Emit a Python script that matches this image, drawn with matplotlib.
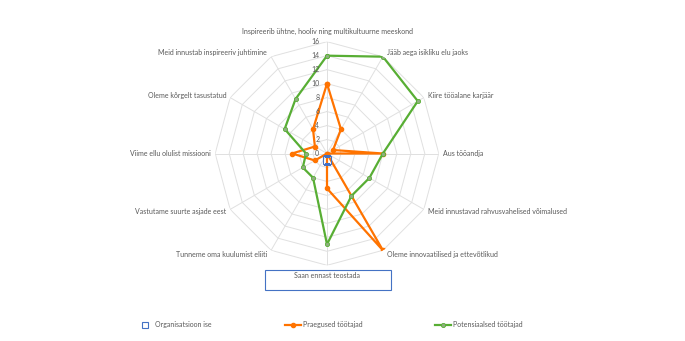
import numpy as np
import matplotlib
matplotlib.use("Agg")
import matplotlib.pyplot as plt
from matplotlib.lines import Line2D
from matplotlib.patches import Rectangle

plt.rcParams['font.family'] = ['Lato', 'DejaVu Sans']

# categories, clockwise from the top
categories = [
    "Inspireerib ühtne, hooliv ning multikultuurne meeskond",
    "Jääb aega isikliku elu jaoks",
    "Kiire tööalane karjäär",
    "Aus tööandja",
    "Meid innustavad rahvusvahelised võimalused",
    "Oleme innovaatilised ja ettevõtlikud",
    "Saan ennast teostada",
    "Tunneme oma kuulumist eliiti",
    "Vastutame suurte asjade eest",
    "Viime ellu olulist missiooni",
    "Oleme kõrgelt tasustatud",
    "Meid innustab inspireeriv juhtimine",
]
organisatsioon = [np.nan, np.nan, np.nan, np.nan, np.nan, np.nan, 1,
                  np.nan, np.nan, np.nan, np.nan, np.nan]
praegused = [10, 4, 1, 8, 0, 16, 5, 0, 2, 5, 2, 4]
potensiaalsed = [14, 16, 15, 8, 7, 7, 13, 4, 4, 3, 7, 9]
r_ticks = [0, 2, 4, 6, 8, 10, 12, 14, 16]

c_blue = '#4472C4'
c_orange = '#FF7300'
c_green = '#58AE34'
c_grid = '#E0E0E0'
fs = 5.0

W, H = 685, 341
fig = plt.figure(figsize=(W / 100, H / 100), dpi=100)
cx, cy, R = 327, 153.5, 111.8
ax = fig.add_axes([(cx - R) / W, (H - cy - R) / H, 2 * R / W, 2 * R / H],
                  projection='polar')
ax.set_theta_offset(np.pi / 2)
ax.set_theta_direction(-1)
ax.set_ylim(0, 16)
ax.set_xticks([])
ax.set_yticks([])
ax.spines['polar'].set_visible(False)
ax.grid(False)
ax.patch.set_alpha(0)

n = len(categories)
ang = np.linspace(0, 2 * np.pi, n, endpoint=False)
ang_c = np.append(ang, ang[0])

# polygon grid
for r in r_ticks[1:]:
    ax.plot(ang_c, [r] * (n + 1), color=c_grid, lw=0.7, zorder=1)
for a in ang:
    ax.plot([a, a], [0, 16], color=c_grid, lw=0.7, zorder=1)

# series
ax.plot(ang_c, praegused + praegused[:1], color=c_orange, lw=1.6,
        marker='o', ms=3, zorder=3)
ax.plot(ang_c, potensiaalsed + potensiaalsed[:1], color=c_green, lw=1.6,
        marker='o', ms=3, mfc='#8FAE80', mec=c_green, mew=0.6, zorder=4)
ax.plot(ang, organisatsioon, ls='none', marker='s', ms=5.5, mfc='none',
        mec=c_blue, mew=0.8, zorder=5)

# radial labels
for v in r_ticks:
    ax.annotate(str(v), xy=(0, v), xytext=(-5.5, 0), textcoords='offset points',
                ha='right', va='center', fontsize=fs, color='#595959', zorder=6)

# category labels
px = 0.72
for a, lab in zip(ang, categories):
    s, c = np.sin(a), np.cos(a)
    if abs(s) < 0.01:
        ha, dx, dy = 'center', 0, 10.7 * np.sign(c)
    else:
        ha = 'left' if s > 0 else 'right'
        dx, dy = 4 * np.sign(s), 4.5 * c
    ax.annotate(lab, xy=(a, 16), xytext=(dx * px, dy * px),
                textcoords='offset points', ha=ha, va='center',
                fontsize=fs, color='#595959', annotation_clip=False)

# selected label box
fig.patches.append(Rectangle((265 / W, (H - 290) / H), 126 / W, 20 / H,
                             transform=fig.transFigure, fill=False,
                             ec=c_blue, lw=0.8))

# legend
handles = [
    Line2D([], [], ls='none', marker='s', ms=4, mfc='none', mec=c_blue, mew=0.8),
    Line2D([], [], color=c_orange, lw=1.6, marker='o', ms=3),
    Line2D([], [], color=c_green, lw=1.6, marker='o', ms=3, mfc='#8FAE80',
           mec=c_green, mew=0.6),
]
names = ["Organisatsioon ise", "Praegused töötajad", "Potensiaalsed töötajad"]
xs = [137, 285, 435]
for h, nm, x in zip(handles, names, xs):
    lg = fig.legend(handles=[h], labels=[nm], loc='center left',
                    bbox_to_anchor=(x / W, (H - 325) / H), frameon=False,
                    fontsize=fs, handlelength=2.3, handletextpad=0.3,
                    borderpad=0, borderaxespad=0)
    for t in lg.get_texts():
        t.set_color('#595959')

fig.savefig('out.png', dpi=100)
